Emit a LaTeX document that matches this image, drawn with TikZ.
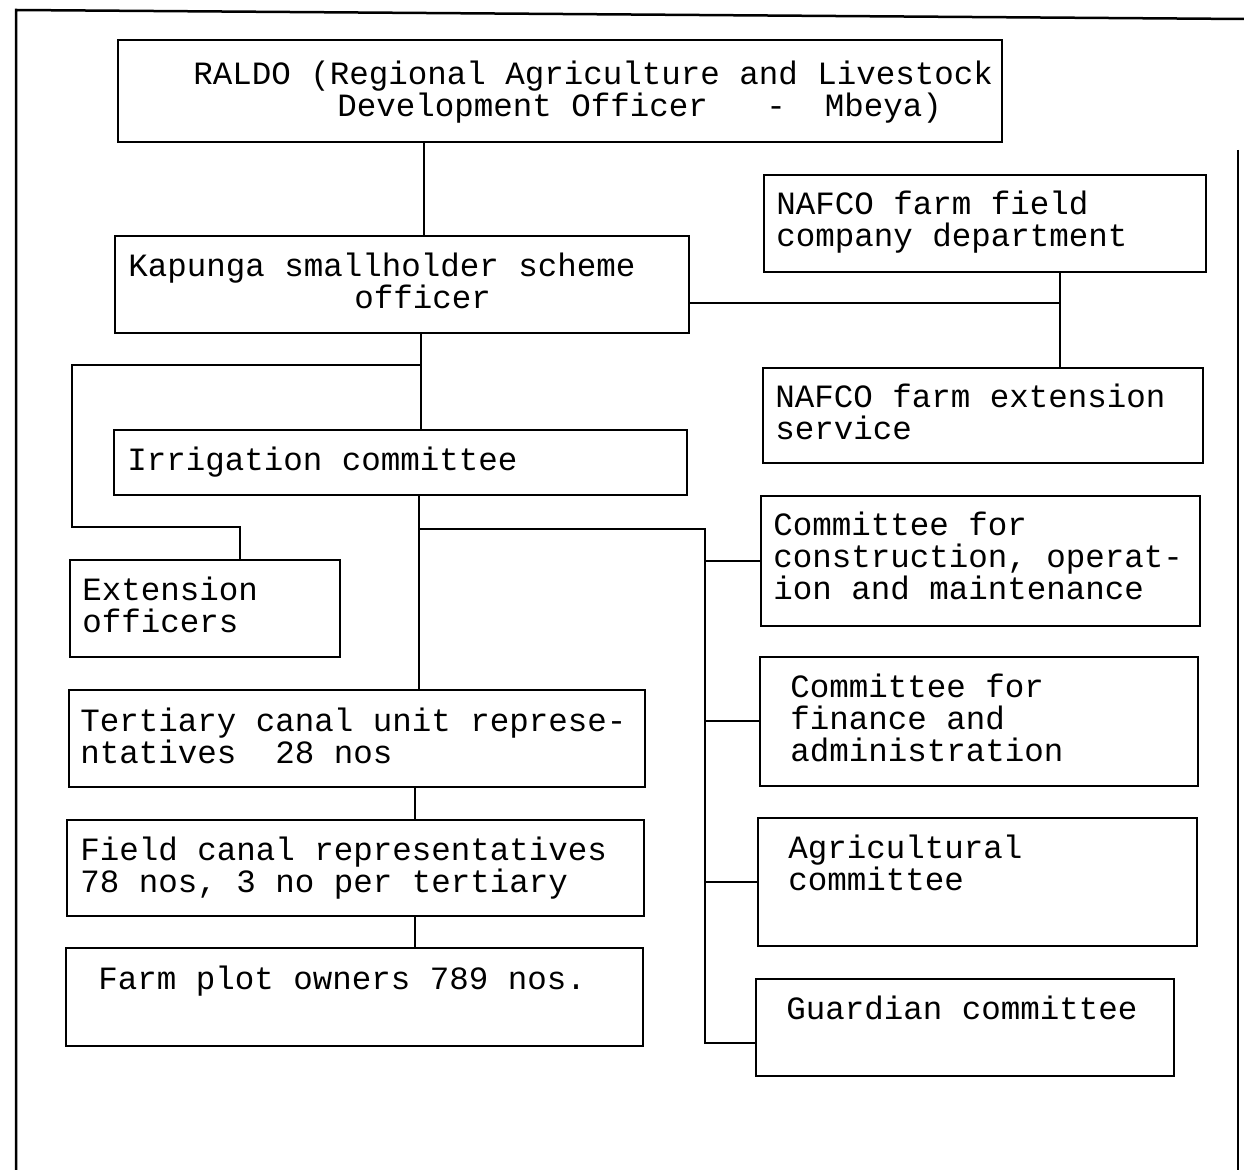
\documentclass[tikz,border=0pt]{standalone}
\usepackage{fontspec}
\newfontfamily\monofont{Liberation Mono}
\usetikzlibrary{fit}
\begin{document}
\begin{tikzpicture}[x=0.5pt,y=-0.5pt,
  box/.style={draw, line width=1.25pt, inner sep=0pt},
  txt/.style={anchor=base west, inner sep=0pt, align=left,
    font=\monofont\fontsize{16.25pt}{16pt}\selectfont},
  link/.style={draw, line width=1pt},
  frame/.style={line width=1.25pt}]
\useasboundingbox (0,0) rectangle (1244,1170);
\fill[white] (0,0) rectangle (1244,1170);
% outer frame
\draw[frame] (16,1170) -- (16,10) -- (1244,19);
\draw[frame] (1238,150) -- (1238,1170);

% boxes
\node[box, fit={(118,40) (1002,142)}] (raldo) {};
\node[box, fit={(115,236) (689,333)}] (kap) {};
\node[box, fit={(764,175) (1206,272)}] (nfield) {};
\node[box, fit={(763,368) (1203,463)}] (next) {};
\node[box, fit={(114,430) (687,495)}] (irr) {};
\node[box, fit={(70,560) (340,657)}] (ext) {};
\node[box, fit={(761,496) (1200,626)}] (cons) {};
\node[box, fit={(760,657) (1198,786)}] (fin) {};
\node[box, fit={(758,818) (1197,946)}] (agri) {};
\node[box, fit={(756,979) (1174,1076)}] (guard) {};
\node[box, fit={(69,690) (645,787)}] (tert) {};
\node[box, fit={(67,820) (644,916)}] (field) {};
\node[box, fit={(66,948) (643,1046)}] (farm) {};

% texts (anchored at the baseline of their last line)
\node[txt] (raldoT) at (193,117) {RALDO (Regional Agriculture and Livestock\\\hspace*{72pt}Development Officer~~~-~~Mbeya)};
\node[txt] (kapT) at (128,309) {Kapunga smallholder scheme\\\hspace*{113pt}officer};
\node[txt] (nfieldT) at (776,247) {NAFCO farm field\\company department};
\node[txt] (nextT) at (775,440) {NAFCO farm extension\\service};
\node[txt] (irrT) at (127,471) {Irrigation committee};
\node[txt] (extT) at (82,633) {Extension\\officers};
\node[txt] (consT) at (773,600) {Committee for\\construction, operat-\\ion and maintenance};
\node[txt] (finT) at (790,762) {Committee for\\finance and\\administration};
\node[txt] (tertT) at (80,764) {Tertiary canal unit represe-\\ntatives~~28 nos};
\node[txt] (fieldT) at (80,893) {Field canal representatives\\78 nos, 3 no per tertiary};
\node[txt] (agriT) at (788,891) {Agricultural\\committee};
\node[txt] (farmT) at (98,990) {Farm plot owners 789 nos.};
\node[txt] (guardT) at (786,1020) {Guardian committee};

% bus coordinates
\coordinate (b1) at (424,0);
\coordinate (b2) at (1060,303);
\coordinate (b3) at (421,365);
\coordinate (b3l) at (72,365);
\coordinate (b4) at (240,527);
\coordinate (b5) at (419,529);
\coordinate (b6) at (705,529);
\coordinate (b7) at (705,1043);
\coordinate (b8) at (415,0);

% connectors
\draw[link] (raldo.south -| b1) -- (kap.north -| b1);
\draw[link] (kap.east |- b2) -- (b2);
\draw[link] (nfield.south -| b2) -- (next.north -| b2);
\draw[link] (kap.south -| b3) -- (irr.north -| b3);
\draw[link] (b3) -- (b3l) |- (b4) -- (ext.north -| b4);
\draw[link] (irr.south -| b5) -- (tert.north -| b5);
\draw[link] (b5) -- (b6) -- (b7) -- (guard.west |- b7);
\draw[link] (b6 |- cons.west) -- (cons.west);
\draw[link] (b6 |- fin.west) -- (fin.west);
\draw[link] (b6 |- agri.west) -- (agri.west);
\draw[link] (tert.south -| b8) -- (field.north -| b8);
\draw[link] (field.south -| b8) -- (farm.north -| b8);
\end{tikzpicture}
\end{document}
